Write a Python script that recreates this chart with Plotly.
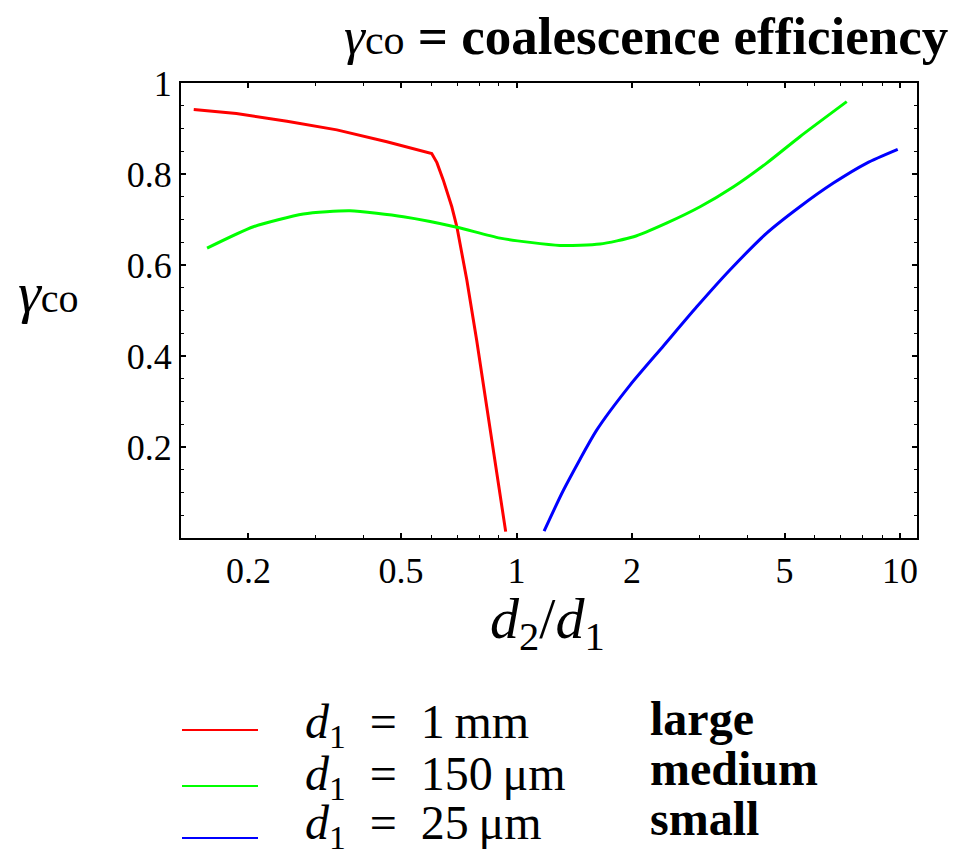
import plotly.graph_objects as go
import math

# ---- data ----
red_x = [0.144, 0.186, 0.252, 0.340, 0.459, 0.540, 0.601, 0.620, 0.644, 0.678, 0.699, 0.742, 0.787, 0.836, 0.888, 0.937]
red_y = [0.942, 0.933, 0.916, 0.897, 0.871, 0.856, 0.845, 0.825, 0.787, 0.728, 0.684, 0.567, 0.435, 0.289, 0.142, 0.014]

green_x = [0.156, 0.206, 0.278, 0.368, 0.507, 0.699, 0.906, 1.298, 1.65, 2.02, 2.46, 3.01, 3.68, 4.49, 5.48, 7.26]
green_y = [0.637, 0.684, 0.712, 0.719, 0.706, 0.683, 0.659, 0.643, 0.646, 0.662, 0.692, 0.728, 0.772, 0.824, 0.882, 0.959]

blue_x = [1.18, 1.325, 1.618, 1.977, 2.415, 2.95, 3.60, 4.49, 5.48, 6.70, 8.19, 9.86]
blue_y = [0.015, 0.105, 0.237, 0.336, 0.422, 0.508, 0.589, 0.670, 0.728, 0.780, 0.824, 0.854]

x_tickvals = [0.2, 0.5, 1, 2, 5, 10]
x_ticktext = ["0.2", "0.5", "1", "2", "5", "10"]
x_minor = [0.3, 0.4, 0.6, 0.7, 0.8, 0.9, 3, 4, 6, 7, 8, 9]
y_tickvals = [0.2, 0.4, 0.6, 0.8, 1.0]
y_ticktext = ["0.2", "0.4", "0.6", "0.8", "1"]
y_minor = [0.05, 0.1, 0.15, 0.25, 0.3, 0.35, 0.45, 0.5, 0.55, 0.65, 0.7, 0.75, 0.85, 0.9, 0.95]

SP = "\u2002"
series_names = [
    "<i>d</i><sub>1</sub>" + SP + "=" + SP + "1\u2009mm",
    "<i>d</i><sub>1</sub>" + SP + "=" + SP + "150\u2009μm",
    "<i>d</i><sub>1</sub>" + SP + "=" + SP + "25\u2009μm",
]
size_names = ["large", "medium", "small"]
colors = ["#FF0000", "#00FF00", "#0000FF"]

FONT = "Liberation Serif"

fig = go.Figure()
fig.add_trace(go.Scatter(x=red_x, y=red_y, mode="lines", line=dict(color=colors[0], width=3), showlegend=False))
fig.add_trace(go.Scatter(x=green_x, y=green_y, mode="lines", line=dict(color=colors[1], width=3, shape="spline", smoothing=0.6), showlegend=False))
fig.add_trace(go.Scatter(x=blue_x, y=blue_y, mode="lines", line=dict(color=colors[2], width=3, shape="spline", smoothing=0.6), showlegend=False))

L, R, T, B = 181, 42, 83, 320
W, H = 959, 858
pw, ph = W - L - R, H - T - B

def px(xp):
    return (xp - L) / pw

def py(yp):
    return (H - B - yp) / ph

fig.update_layout(
    width=W, height=H,
    margin=dict(l=L, r=R, t=T, b=B),
    paper_bgcolor="white", plot_bgcolor="white",
    font=dict(family=FONT, color="black", size=36),
    xaxis=dict(
        type="log", range=[math.log10(0.1334), math.log10(11.07)],
        tickvals=x_tickvals, ticktext=x_ticktext,
        ticks="inside", ticklen=5, tickwidth=1.5, tickcolor="black",
        showline=True, linecolor="black", linewidth=2, mirror="ticks",
        showgrid=False, zeroline=False,
        tickfont=dict(family=FONT, size=36),
        minor=dict(tickvals=x_minor, ticks="inside", ticklen=3, tickwidth=1, tickcolor="black", showgrid=False),
    ),
    yaxis=dict(
        range=[0, 1],
        tickvals=y_tickvals, ticktext=y_ticktext,
        ticks="inside", ticklen=5, tickwidth=1.5, tickcolor="black",
        showline=True, linecolor="black", linewidth=2, mirror="ticks",
        showgrid=False, zeroline=False,
        tickfont=dict(family=FONT, size=36),
        minor=dict(tickvals=y_minor, ticks="inside", ticklen=3, tickwidth=1, tickcolor="black", showgrid=False),
    ),
    showlegend=False,
)

annotations = [
    dict(text="<i>γ</i><span style='font-size:42px'>co</span> <b>= coalescence efficiency</b>",
         x=px(950), y=py(36), xref="paper", yref="paper", xanchor="right", yanchor="middle",
         showarrow=False, font=dict(family=FONT, size=53, color="black")),
    dict(text="<i>γ</i><span style='font-size:40px'>co</span>",
         x=px(16), y=py(292), xref="paper", yref="paper", xanchor="left", yanchor="middle",
         showarrow=False, font=dict(family=FONT, size=58, color="black")),
    dict(text="<i>d</i><sub>2</sub>/<i>d</i><sub>1</sub>",
         x=px(547), y=py(622), xref="paper", yref="paper", xanchor="center", yanchor="middle",
         showarrow=False, font=dict(family=FONT, size=58, color="black")),
]

legend_line_y = [730, 786, 838]
legend_text_y = [725, 777, 826]
size_text_y = [718, 768, 818]
shapes = []
for i in range(3):
    shapes.append(dict(type="line", xref="paper", yref="paper",
                       x0=px(182), x1=px(258), y0=py(legend_line_y[i]), y1=py(legend_line_y[i]),
                       line=dict(color=colors[i], width=2)))
    annotations.append(dict(text=series_names[i], x=px(303), y=py(legend_text_y[i]),
                            xref="paper", yref="paper", xanchor="left", yanchor="middle",
                            showarrow=False, font=dict(family=FONT, size=48, color="black")))
    annotations.append(dict(text="<b>" + size_names[i] + "</b>", x=px(648), y=py(size_text_y[i]),
                            xref="paper", yref="paper", xanchor="left", yanchor="middle",
                            showarrow=False, font=dict(family=FONT, size=48, color="black")))

fig.update_layout(annotations=annotations, shapes=shapes)
fig.write_html("out.html")
